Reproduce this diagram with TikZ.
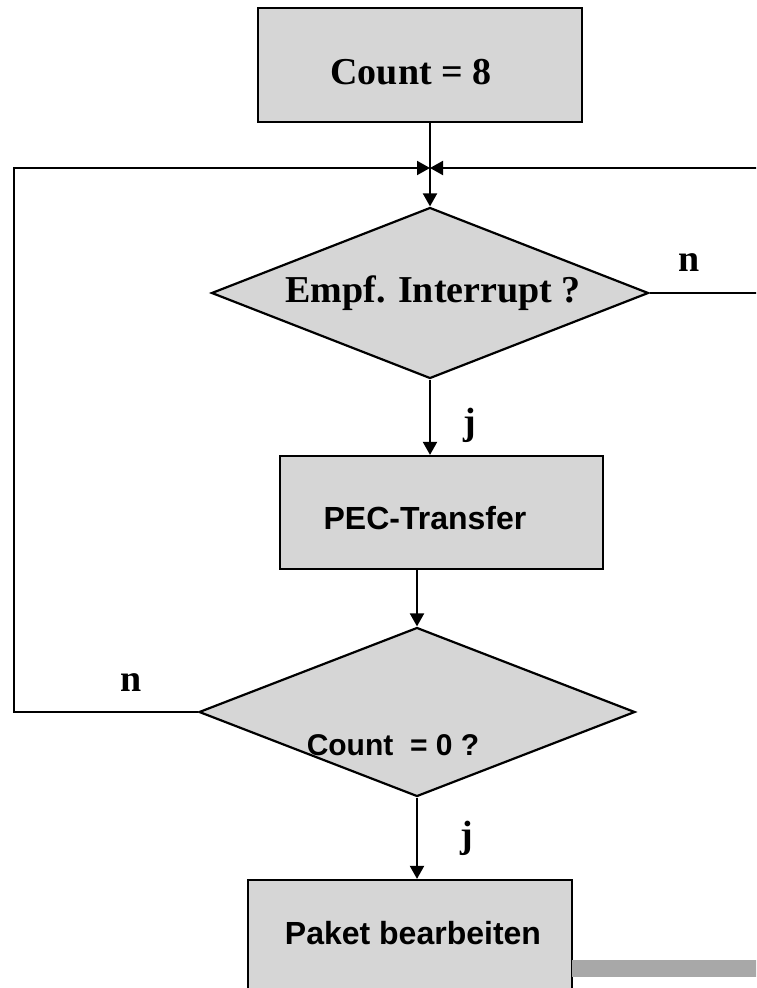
\documentclass[tikz,border=0pt]{standalone}
\usepackage{fontspec}
\setmainfont{Liberation Serif}
\setsansfont{Liberation Sans}
\usetikzlibrary{shapes.geometric,arrows.meta,positioning}
\definecolor{boxgray}{HTML}{D6D6D6}
\definecolor{shadegray}{HTML}{A8A8A8}

\begin{document}
\begin{tikzpicture}[
        x=1pt,
        y=-1pt,
        stepbox/.style={draw, line width=2.2pt, fill=boxgray, inner sep=0pt},
        query/.style={diamond, draw, line width=2.2pt, fill=boxgray, inner sep=0pt},
        flow/.style={-{Triangle[length=13pt, width=14pt]}, line width=2pt},
        serifbf/.style={font=\fontsize{38}{42}\selectfont\bfseries, inner sep=0pt},
        sansbf/.style={font=\fontsize{32}{36}\selectfont\sffamily\bfseries, inner sep=0pt}
    ]
        \path[use as bounding box, clip] (0,0) rectangle (756,988);

        % boxes and queries
        \node[stepbox, minimum width=324, minimum height=114] (cnt8) at (420,65) {};
        \node[query, minimum width=437, minimum height=171] (q1) at (430,293) {};
        \node[stepbox, minimum width=323, minimum height=113] (pec) at (441.5,512.5) {};
        \node[query, minimum width=436, minimum height=169] (q2) at (417,712) {};
        \node[stepbox, minimum width=324, minimum height=130] (pkt) at (410,945) {};
        \fill[shadegray] (572,960) rectangle (770,977);

        % texts
        \node[serifbf] (cnt8txt) at (411,72) {Count = 8};
        \node[serifbf] (q1txt) at (433,293) {Empf. Interrupt ?};
        \node[sansbf] (pectxt) at (425,518) {PEC-Transfer};
        \node[sansbf, font=\fontsize{30}{34}\selectfont\sffamily\bfseries] (q2txt) at (393,745) {Count\ \ = 0 ?};
        \node[sansbf] (pkttxt) at (413,933) {Paket bearbeiten};

        % answers
        \node[serifbf] (n1) at (689,263) {n};
        \node[serifbf] (j1) at (470,425) {j};
        \node[serifbf] (n2) at (131,683) {n};
        \node[serifbf] (j2) at (467,838) {j};

        \coordinate (join) at (430,168);
        \coordinate (lft) at (14,168);
        \coordinate (rgt) at (766,168);

        \draw[flow] (cnt8.south -| q1.north) -- (q1.north);
        \draw[flow] (q1.east) -| (rgt) -- (join);
        \draw[flow] (q2.west) -| (lft) -- (join);
        \draw[flow] (q1.south) -- (q1.south |- pec.north);
        \draw[flow] (pec.south -| q2.north) -- (q2.north);
        \draw[flow] (q2.south) -- (q2.south |- pkt.north);
    \end{tikzpicture}
\end{document}
